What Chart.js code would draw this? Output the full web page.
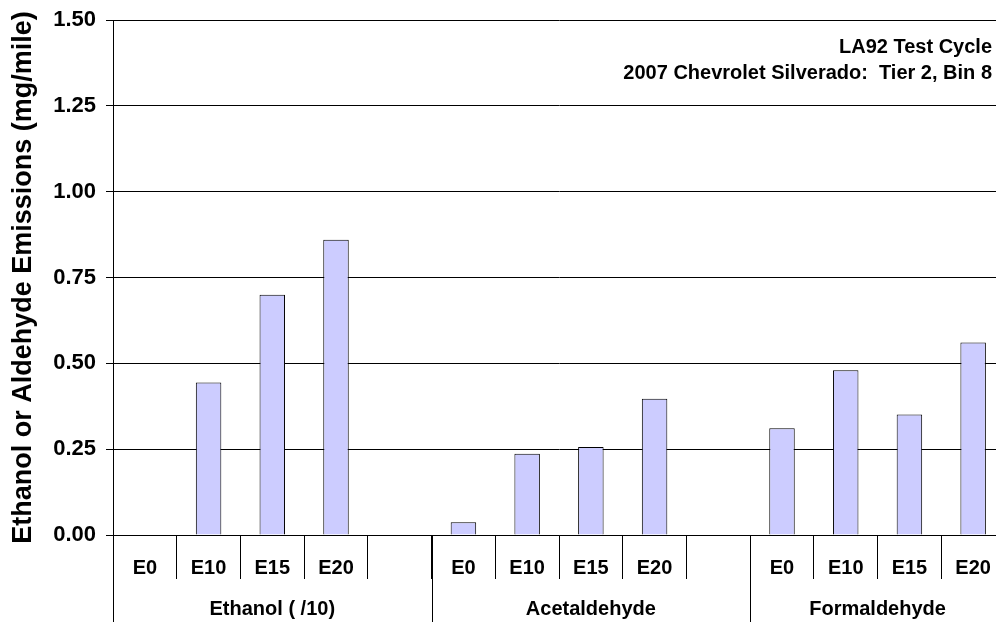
<!DOCTYPE html>
<html>
<head>
<meta charset="utf-8">
<title>Ethanol and Aldehyde Emissions</title>
<script src="https://cdn.jsdelivr.net/npm/chart.js@4.4.1/dist/chart.umd.min.js"></script>
<style>
  html, body { margin: 0; padding: 0; background: #fff; overflow: hidden; }
  #wrap { width: 1005px; height: 624px; }
</style>
</head>
<body>
<div id="wrap"><canvas id="emChart"></canvas></div>
<script>
// --- Data ---
const fuelLabels = ['E0', 'E10', 'E15', 'E20'];
const ethanolValues = [0, 0.444, 0.700, 0.860];      // ethanol is divided by 10
const acetaldehydeValues = [0.037, 0.237, 0.256, 0.397];
const formaldehydeValues = [0.311, 0.480, 0.351, 0.561];
const groupLabels = ['Ethanol ( /10)', 'Acetaldehyde', 'Formaldehyde'];
const yTicks = [0, 0.25, 0.5, 0.75, 1.0, 1.25, 1.5];
const titleLines = ['LA92 Test Cycle', '2007 Chevrolet Silverado:  Tier 2, Bin 8'];

// one blank slot between groups, like the original spreadsheet layout
const groupSeries = [ethanolValues, acetaldehydeValues, formaldehydeValues];
const categories = [];
const values = [];
const groupStarts = [];
groupSeries.forEach((vals, g) => {
    if (g > 0) { categories.push(''); values.push(null); }
    groupStarts.push(categories.length);
    fuelLabels.forEach((f, i) => { categories.push(f); values.push(vals[i]); });
});

const FONT = "'Liberation Sans', Arial, sans-serif";
Chart.defaults.font.family = FONT;
Chart.defaults.color = '#000';

// group labels + long separators under the fuel labels
const groupRow = {
    id: 'groupRow',
    afterDraw(chart) {
        const { ctx, chartArea } = chart;
        const x = chart.scales.x;
        const step = x.getPixelForValue(1) - x.getPixelForValue(0);
        const n = categories.length;
        ctx.save();
        ctx.strokeStyle = '#000';
        ctx.lineWidth = 1;
        ctx.font = 'bold 20px ' + FONT;
        ctx.fillStyle = '#000';
        ctx.textAlign = 'center';
        ctx.textBaseline = 'middle';
        groupStarts.forEach((s, g) => {
            const end = g + 1 < groupStarts.length ? groupStarts[g + 1] : n;
            const left = x.getPixelForValue(s) - step / 2;
            const right = x.getPixelForValue(end - 1) + step / 2;
            const lx = Math.round(left) + 0.5;
            ctx.beginPath();
            ctx.moveTo(lx, chartArea.bottom);
            ctx.lineTo(lx, 622);
            ctx.stroke();
            ctx.fillText(groupLabels[g], (left + right) / 2, 609);
        });
        ctx.restore();
    }
};

// two-line caption at top right of the plot
const captionBox = {
    id: 'captionBox',
    afterDraw(chart) {
        const { ctx, chartArea } = chart;
        ctx.save();
        ctx.font = 'bold 20px ' + FONT;
        ctx.fillStyle = '#000';
        ctx.textAlign = 'right';
        ctx.textBaseline = 'middle';
        titleLines.forEach((t, i) => {
            ctx.fillText(t, chartArea.right - 13, chartArea.top + 27 + i * 26);
        });
        ctx.restore();
    }
};

new Chart(document.getElementById('emChart'), {
    type: 'bar',
    data: {
        labels: categories,
        datasets: [{
            data: values,
            backgroundColor: '#CCCCFF',
            borderColor: '#000',
            borderWidth: 1,
            borderSkipped: 'bottom',
            barPercentage: 0.4,
            categoryPercentage: 1.0
        }]
    },
    options: {
        responsive: true,
        maintainAspectRatio: false,
        animation: false,
        layout: { padding: { top: 20, right: 0, bottom: 0, left: 0 } },
        plugins: {
            legend: { display: false },
            tooltip: { enabled: false }
        },
        scales: {
            x: {
                offset: true,
                afterFit: s => { s.height = 89; s.paddingLeft = 0; s.paddingRight = 0; },
                grid: {
                    offset: true,
                    drawOnChartArea: false,
                    drawTicks: true,
                    tickLength: 44,
                    color: '#000'
                },
                border: { display: true, color: '#000' },
                ticks: {
                    autoSkip: false,
                    maxRotation: 0,
                    padding: -23,
                    font: { size: 20, weight: 'bold' }
                }
            },
            y: {
                min: 0,
                max: 1.5,
                afterFit: s => { s.width = 113; s.paddingTop = 0; s.paddingBottom = 0; },
                afterBuildTicks: s => { s.ticks = yTicks.map(v => ({ value: v })); },
                grid: { color: '#000', tickLength: 7, drawTicks: true },
                border: { display: true, color: '#000' },
                ticks: {
                    padding: 10,
                    font: { size: 22, weight: 'bold' },
                    callback: v => Number(v).toFixed(2)
                },
                title: {
                    display: true,
                    text: 'Ethanol or Aldehyde Emissions (mg/mile)',
                    font: { size: 27, weight: 'bold' },
                    padding: { top: 7, bottom: 0 }
                }
            }
        }
    },
    plugins: [groupRow, captionBox]
});
</script>
</body>
</html>
